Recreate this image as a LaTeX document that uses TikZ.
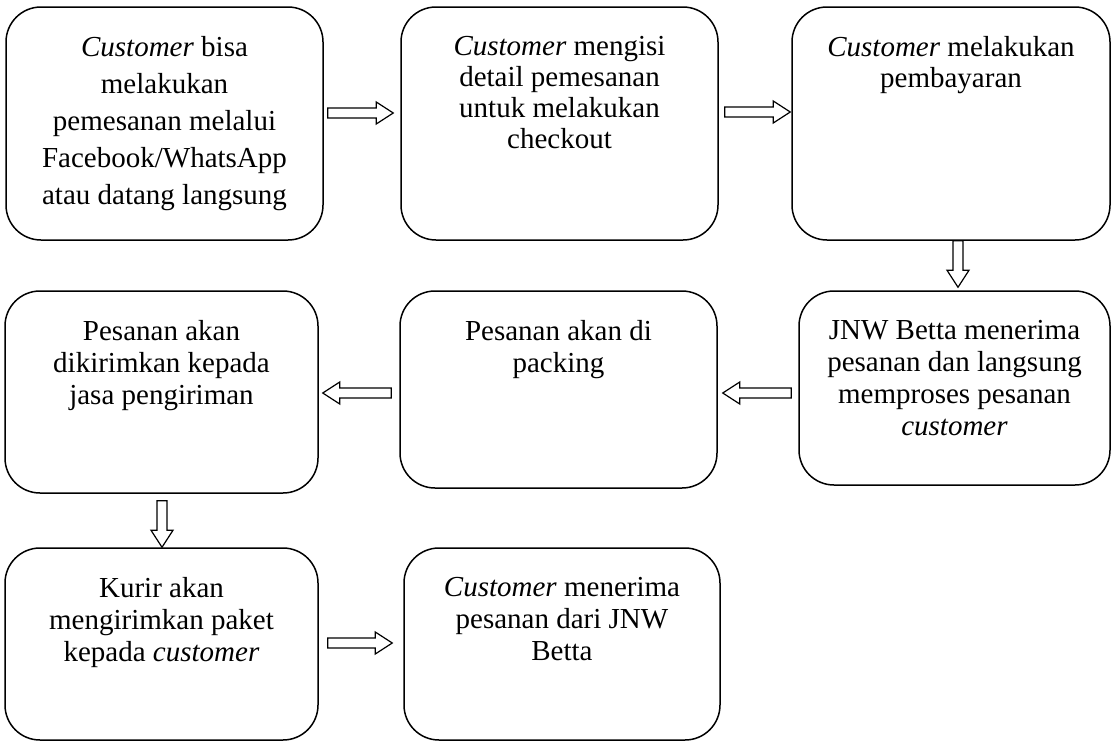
\documentclass[tikz,border=0pt]{standalone}
\usepackage{fontspec}
\setmainfont{Liberation Serif}
\usetikzlibrary{positioning,calc}

\begin{document}
\begin{tikzpicture}[
	box/.style={draw, rounded corners=35bp, line width=1.5bp, inner sep=0pt},
	txt/.style={align=center, inner sep=0pt, font=\fontsize{29bp}{32bp}\selectfont},
	blockarrow/.style={draw, line width=1.2bp, to path={
		let \p1=(\tikztostart), \p2=(\tikztotarget),
		    \n1={atan2(\y2-\y1,\x2-\x1)}, \n2={veclen(\x2-\x1,\y2-\y1)-17bp} in
		($(\p1)+(\n1+90:5bp)$) -- ($(\p1)+(\n1:\n2)+(\n1+90:5bp)$)
		-- ($(\p1)+(\n1:\n2)+(\n1+90:11bp)$) -- (\p2)
		-- ($(\p1)+(\n1:\n2)+(\n1-90:11bp)$) -- ($(\p1)+(\n1:\n2)+(\n1-90:5bp)$)
		-- ($(\p1)+(\n1-90:5bp)$) -- cycle}}]
	\useasboundingbox (0bp,0bp) rectangle (1112bp,-741bp);

	% boxes
	\node (b1) at (164.5bp,-123.5bp) [box, minimum width=317bp, minimum height=233bp] {};
	\node (b2) at (559.5bp,-123.5bp) [box, minimum width=317bp, minimum height=233bp] {};
	\node (b3) at (951bp,-123.5bp)   [box, minimum width=318bp, minimum height=233bp] {};
	\node (b4) at (954.5bp,-388bp)   [box, minimum width=311bp, minimum height=194bp] {};
	\node (b5) at (558.5bp,-389.5bp) [box, minimum width=317bp, minimum height=197bp] {};
	\node (b6) at (161.5bp,-392bp)   [box, minimum width=313bp, minimum height=202bp] {};
	\node (b7) at (161.5bp,-644bp)   [box, minimum width=313bp, minimum height=192bp] {};
	\node (b8) at (562bp,-644bp)     [box, minimum width=316bp, minimum height=192bp] {};

	% texts
	\node (t1) [txt, below=30bp of b1.north, font=\fontsize{29bp}{37bp}\selectfont]
		{\textit{Customer} bisa\\melakukan\\pemesanan melalui\\Facebook/WhatsApp\\atau datang langsung};
	\node (t2) [txt, below=30bp of b2.north, font=\fontsize{29bp}{31bp}\selectfont]
		{\textit{Customer} mengisi\\detail pemesanan\\untuk melakukan\\checkout};
	\node (t3) [txt, below=30bp of b3.north, font=\fontsize{29bp}{31bp}\selectfont]
		{\textit{Customer} melakukan\\pembayaran};
	\node (t4) [txt, below=30bp of b4.north] {JNW Betta menerima\\pesanan dan langsung\\memproses pesanan\\\textit{customer}};
	\node (t5) [txt, below=30bp of b5.north] {Pesanan akan di\\packing};
	\node (t6) [txt, below=30bp of b6.north] {Pesanan akan\\dikirimkan kepada\\jasa pengiriman};
	\node (t7) [txt, below=30bp of b7.north] {Kurir akan\\mengirimkan paket\\kepada \textit{customer}};
	\node (t8) [txt, below=30bp of b8.north] {\textit{Customer} menerima\\pesanan dari JNW\\Betta};

	% arrows
	\draw [blockarrow] ($(b1.east)+(4bp,10.5bp)$) to ($(b2.west)+(-7bp,10.5bp)$);
	\draw [blockarrow] ($(b2.east)+(6bp,11.5bp)$) to ($(b3.west)+(-1bp,11.5bp)$);
	\draw [blockarrow] ($(b3.south)+(7bp,0bp)$) to ($(b4.north)+(3.5bp,3bp)$);
	\draw [blockarrow] ($(b4.west)+(-7bp,-5bp)$) to ($(b5.east)+(5bp,-3.5bp)$);
	\draw [blockarrow] ($(b5.west)+(-8bp,-3.5bp)$) to ($(b6.east)+(4bp,-1bp)$);
	\draw [blockarrow] ($(b6.south)+(0.5bp,-7bp)$) to ($(b7.north)+(0.5bp,0bp)$);
	\draw [blockarrow] ($(b7.east)+(9bp,1bp)$) to ($(b8.west)+(-11bp,1bp)$);
\end{tikzpicture}
\end{document}
